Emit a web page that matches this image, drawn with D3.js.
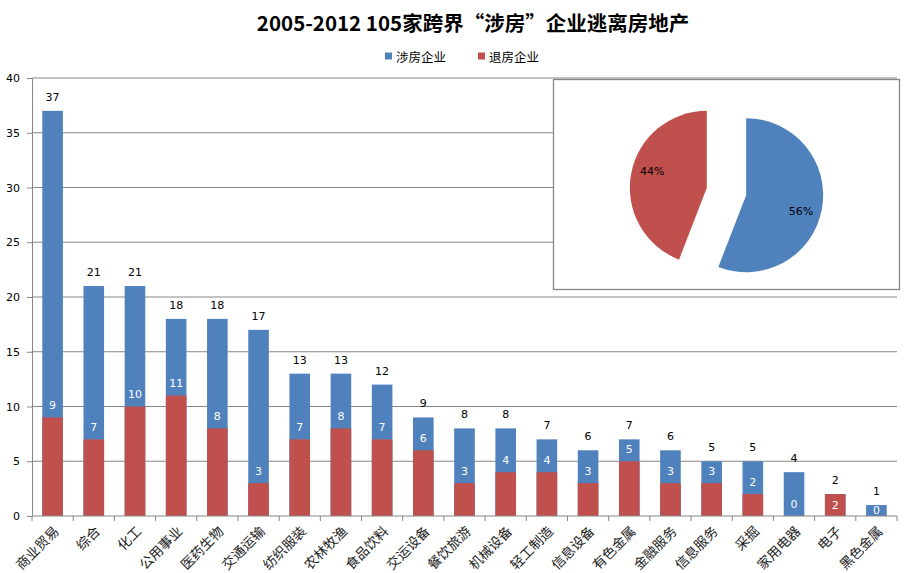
<!DOCTYPE html>
<html>
<head>
<meta charset="utf-8">
<script src="https://cdn.jsdelivr.net/npm/d3@7"></script>
<style>
  body { margin: 0; background: #fff; }
  svg { display: block; }
</style>
</head>
<body>
<div id="chart"></div>
<script>
// data
const categories = ['商业贸易', '综合', '化工', '公用事业', '医药生物', '交通运输', '纺织服装', '农林牧渔', '食品饮料',
    '交运设备', '餐饮旅游', '机械设备', '轻工制造', '信息设备', '有色金属', '金融服务', '信息服务', '采掘',
    '家用电器', '电子', '黑色金属'];
const sheFang = [37, 21, 21, 18, 18, 17, 13, 13, 12, 9, 8, 8, 7, 6, 7, 6, 5, 5, 4, 2, 1];   // 涉房企业 (bar height)
const tuiFang = [9, 7, 10, 11, 8, 3, 7, 8, 7, 6, 3, 4, 4, 3, 5, 3, 3, 2, 0, 2, 0];        // 退房企业
const yTicks = [0, 5, 10, 15, 20, 25, 30, 35, 40];
const seriesNames = ['涉房企业', '退房企业'];
const colors = ['#4F81BD', '#C0504D'];

const width = 913, height = 573;
const margin = {top: 78, right: 16, bottom: 57, left: 32};

const rows = categories.map((c, i) => ({cat: c, total: sheFang[i], out: tuiFang[i]}));

const svg = d3.select('#chart')
    .append('svg')
    .attr('width', width)
    .attr('height', height)
    .style('font-family', '"DejaVu Sans", Verdana, sans-serif');

// title
svg.append('text')
    .attr('x', 473)
    .attr('y', 22)
    .attr('text-anchor', 'middle')
    .attr('dominant-baseline', 'central')
    .style('font-family', '"Noto Sans CJK SC", sans-serif')
    .style('font-weight', 'bold')
    .style('font-size', '20.5px')
    .text('2005-2012 105家跨界“涉房”企业逃离房地产');

// legend
const legend = svg.append('g')
    .selectAll('g')
    .data(seriesNames)
    .join('g')
    .attr('transform', (d, i) => `translate(${i === 0 ? 385 : 478}, 56)`);
legend.append('rect')
    .attr('x', 0).attr('y', -3.5)
    .attr('width', 7).attr('height', 7)
    .attr('fill', (d, i) => colors[i]);
legend.append('text')
    .attr('x', 11)
    .attr('dominant-baseline', 'central')
    .style('font-family', '"Noto Sans CJK SC", sans-serif')
    .style('font-size', '12.5px')
    .text(d => d);

// scales
const x = d3.scaleBand()
    .domain(categories)
    .range([margin.left, width - margin.right])
    .paddingInner(0.5)
    .paddingOuter(0.25);
const y = d3.scaleLinear()
    .domain([0, 40])
    .range([height - margin.bottom, margin.top]);

// gridlines
svg.append('g')
    .selectAll('line')
    .data(yTicks.filter(t => t > 0))
    .join('line')
    .attr('x1', margin.left).attr('x2', width - margin.right)
    .attr('y1', d => y(d)).attr('y2', d => y(d))
    .attr('stroke', '#868686')
    .attr('stroke-width', 1);

// y axis
const yAxis = svg.append('g')
    .attr('transform', `translate(${margin.left},0)`)
    .call(d3.axisLeft(y).tickValues(yTicks).tickSize(5).tickSizeOuter(0).tickPadding(7));
yAxis.selectAll('path, line').attr('stroke', '#868686');
yAxis.selectAll('text').style('font-size', '11px').attr('fill', '#000')
    .style('font-family', '"DejaVu Sans", Verdana, sans-serif');

// bars: full height blue, 退房 red drawn over it
svg.append('g')
    .selectAll('rect')
    .data(rows)
    .join('rect')
    .attr('x', d => x(d.cat))
    .attr('width', x.bandwidth())
    .attr('y', d => y(d.total))
    .attr('height', d => y(0) - y(d.total))
    .attr('fill', colors[0]);

svg.append('g')
    .selectAll('rect')
    .data(rows)
    .join('rect')
    .attr('x', d => x(d.cat))
    .attr('width', x.bandwidth())
    .attr('y', d => y(d.out))
    .attr('height', d => y(0) - y(d.out))
    .attr('fill', colors[1]);

// x axis line + ticks on category boundaries
const x0 = x.range()[0];
svg.append('line')
    .attr('x1', x0).attr('x2', x.range()[1])
    .attr('y1', y(0)).attr('y2', y(0))
    .attr('stroke', '#868686');
svg.append('g')
    .selectAll('line')
    .data(d3.range(categories.length + 1))
    .join('line')
    .attr('x1', i => x0 + i * x.step()).attr('x2', i => x0 + i * x.step())
    .attr('y1', y(0)).attr('y2', y(0) + 5)
    .attr('stroke', '#868686');

// category labels, rotated
svg.append('g')
    .selectAll('text')
    .data(categories)
    .join('text')
    .attr('transform', d => `translate(${x(d) + x.bandwidth() / 2 + 3}, ${y(0) + 12}) rotate(-45)`)
    .attr('text-anchor', 'end')
    .attr('dominant-baseline', 'central')
    .style('font-family', '"Noto Sans CJK SC", sans-serif')
    .style('font-size', '13.5px')
    .attr('fill', '#222')
    .text(d => d);

// totals above bars
svg.append('g')
    .selectAll('text')
    .data(rows)
    .join('text')
    .attr('x', d => x(d.cat) + x.bandwidth() / 2)
    .attr('y', d => y(d.total) - 13.5)
    .attr('text-anchor', 'middle')
    .attr('dominant-baseline', 'central')
    .style('font-size', '11px')
    .text(d => d.total);

// 退房 values in white
svg.append('g')
    .selectAll('text')
    .data(rows)
    .join('text')
    .attr('x', d => x(d.cat) + x.bandwidth() / 2)
    .attr('y', d => (y(d.out) - y(d.total) >= 16) ? y(d.out) - 12 : (y(d.total) + y(0)) / 2)
    .attr('text-anchor', 'middle')
    .attr('dominant-baseline', 'central')
    .attr('fill', '#fff')
    .style('font-size', '11px')
    .text(d => d.out);

// pie inset: 涉房 vs 退房 totals
const pieValues = [d3.sum(sheFang) - d3.sum(tuiFang), d3.sum(tuiFang)];
const pieBox = {x: 553.5, y: 79.5, w: 346, h: 210};
svg.append('rect')
    .attr('x', pieBox.x).attr('y', pieBox.y)
    .attr('width', pieBox.w).attr('height', pieBox.h)
    .attr('fill', '#fff')
    .attr('stroke', '#868686')
    .attr('stroke-width', 1.3);

const r = 77, explode = 20;
const cx = 726.5, cy = 191.5;
const arcs = d3.pie().sort(null)(pieValues);
const arc = d3.arc().innerRadius(0).outerRadius(r);
const total = d3.sum(pieValues);

const slices = svg.append('g')
    .attr('transform', `translate(${cx},${cy})`)
    .selectAll('g')
    .data(arcs)
    .join('g')
    .attr('transform', d => {
        const mid = (d.startAngle + d.endAngle) / 2;
        return `translate(${Math.sin(mid) * explode},${-Math.cos(mid) * explode})`;
    });
slices.append('path')
    .attr('d', arc)
    .attr('fill', (d, i) => colors[i]);
// labels sit a bit clockwise of the mid angle, like excel's best fit
slices.append('text')
    .attr('transform', d => {
        const a = (d.startAngle + d.endAngle) / 2 + 0.1;
        return `translate(${Math.sin(a) * 57},${-Math.cos(a) * 57})`;
    })
    .attr('text-anchor', 'middle')
    .attr('dominant-baseline', 'central')
    .style('font-size', '11px')
    .text(d => Math.round(d.value / total * 100) + '%');
</script>
</body>
</html>
